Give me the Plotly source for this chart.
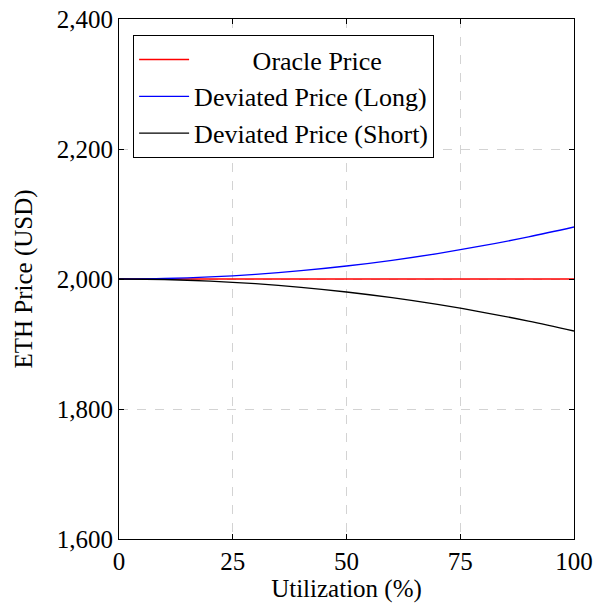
import plotly.graph_objects as go

utilization = [0, 10, 20, 30, 40, 50, 60, 70, 80, 90, 100]
oracle_price = [2000, 2000, 2000, 2000, 2000, 2000, 2000, 2000, 2000, 2000, 2000]
long_price = [2000, 2000.8, 2003.2, 2007.2, 2012.8, 2020, 2028.8, 2039.2, 2051.2, 2064.8, 2080]
short_price = [2000, 1999.2, 1996.8, 1992.8, 1987.2, 1980, 1971.2, 1960.8, 1948.8, 1935.2, 1920]

x_ticks = [0, 25, 50, 75, 100]
y_ticks = [1600, 1800, 2000, 2200, 2400]
y_tick_labels = ["1,600", "1,800", "2,000", "2,200", "2,400"]

FONT = "Liberation Serif"
FS = 25
NB = "\u00a0"

fig = go.Figure()
fig.add_trace(go.Scatter(x=utilization, y=oracle_price, mode="lines",
                         name=NB * 9 + "Oracle Price",
                         line=dict(color="red", width=1.5, shape="spline")))
fig.add_trace(go.Scatter(x=utilization, y=long_price, mode="lines", name="Deviated Price (Long)",
                         line=dict(color="blue", width=1.3, shape="spline")))
fig.add_trace(go.Scatter(x=utilization, y=short_price, mode="lines", name="Deviated Price (Short)",
                         line=dict(color="black", width=1.3, shape="spline")))

axis_common = dict(
    showline=True, linecolor="black", linewidth=1.2, mirror="ticks",
    ticks="inside", ticklen=5, tickcolor="black", tickwidth=0.8,
    showgrid=True, gridcolor="#d3d3d3", griddash="dash", gridwidth=1,
    zeroline=False, tickfont=dict(family=FONT, size=FS, color="black"),
    ticklabeloverflow="allow",
)

fig.update_layout(
    width=597, height=603,
    margin=dict(l=119, r=23, t=19, b=64, autoexpand=False),
    paper_bgcolor="white", plot_bgcolor="white",
    font=dict(family=FONT, size=FS, color="black"),
    xaxis=dict(range=[0, 100], tickvals=x_ticks, ticktext=[str(v) for v in x_ticks],
               title=dict(text="Utilization (%)", font=dict(family=FONT, size=FS), standoff=20),
               **axis_common),
    yaxis=dict(range=[1600, 2400], tickvals=y_ticks, ticktext=y_tick_labels,
               title=dict(text="ETH Price (USD)", font=dict(family=FONT, size=FS), standoff=16),
               **axis_common),
    legend=dict(x=0.031, y=0.969, xanchor="left", yanchor="top",
                bordercolor="black", borderwidth=1, bgcolor="white",
                font=dict(family=FONT, size=26), tracegroupgap=0, itemwidth=50,
                traceorder="normal"),
    showlegend=True,
)

fig.write_html("out.html", config={"displayModeBar": False},
               post_script="document.body.style.margin='0';")
